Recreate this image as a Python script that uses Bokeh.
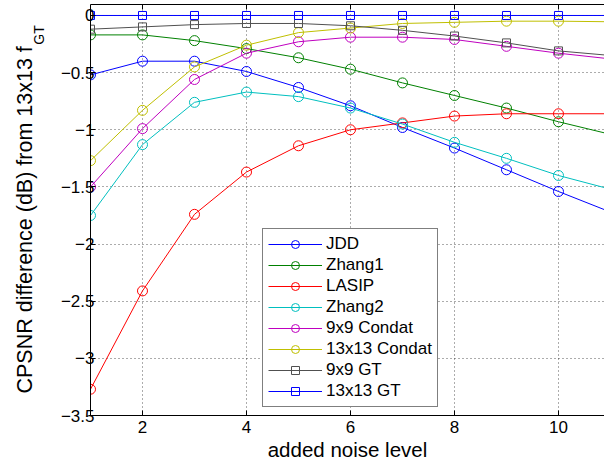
from bokeh.plotting import figure
from bokeh.models import Range1d, FixedTicker, LinearAxis, Title, Legend, LegendItem
from bokeh.embed import file_html
from bokeh.resources import INLINE

# ---------------- data ----------------
noise_level = [1, 2, 3, 4, 5, 6, 7, 8, 9, 10, 11]
jdd = [-0.52, -0.40, -0.40, -0.49, -0.63, -0.79, -0.98, -1.16, -1.35, -1.54, -1.72]
zhang1 = [-0.17, -0.17, -0.22, -0.29, -0.37, -0.47, -0.59, -0.70, -0.81, -0.93, -1.04]
lasip = [-3.27, -2.41, -1.74, -1.37, -1.14, -1.00, -0.94, -0.88, -0.86, -0.86, -0.86]
zhang2 = [-1.75, -1.13, -0.76, -0.67, -0.71, -0.81, -0.95, -1.11, -1.25, -1.40, -1.52]
condat9 = [-1.50, -0.99, -0.56, -0.33, -0.23, -0.19, -0.19, -0.21, -0.27, -0.33, -0.38]
condat13 = [-1.27, -0.83, -0.45, -0.26, -0.15, -0.11, -0.07, -0.06, -0.05, -0.05, -0.055]
gt9 = [-0.12, -0.10, -0.08, -0.07, -0.07, -0.09, -0.13, -0.18, -0.24, -0.31, -0.35]
gt13 = [0.0, 0.0, 0.0, 0.0, 0.0, 0.0, 0.0, 0.0, 0.0, 0.0, 0.0]

series_names = ["JDD", "Zhang1", "LASIP", "Zhang2", "9x9 Condat", "13x13 Condat", "9x9 GT", "13x13 GT"]
series_values = [jdd, zhang1, lasip, zhang2, condat9, condat13, gt9, gt13]
series_colors = ["#0000ff", "#008000", "#ff0000", "#00bfbf", "#bf00bf", "#bfbf00", "#505050", "#0000ff"]
series_markers = ["circle", "circle", "circle", "circle", "circle", "circle", "square", "square"]

x_ticks = [2, 4, 6, 8, 10]
y_ticks = [0, -0.5, -1, -1.5, -2, -2.5, -3, -3.5]
y_tick_labels = ["0", "\u22120.5", "\u22121", "\u22121.5", "\u22122", "\u22122.5", "\u22123", "\u22123.5"]

x_label = "added noise level"
y_label_main = "CPSNR difference (dB) from 13x13 f"
y_label_sub = "GT"

FONT = "Liberation Sans"

# ---------------- figure ----------------
p = figure(width=604, height=466, output_backend="svg", toolbar_location=None,
           x_range=Range1d(1, 10.885), y_range=Range1d(-3.5, 0.096),
           min_border_left=90, min_border_right=0, min_border_top=4, min_border_bottom=51)
p.outline_line_color = None
p.background_fill_color = "white"
p.border_fill_color = "white"

# axes
for ax in (p.xaxis[0], p.yaxis[0]):
    ax.major_tick_in = 5
    ax.major_tick_out = 0
    ax.minor_tick_in = 0
    ax.minor_tick_out = 0
    ax.axis_line_color = "black"
    ax.axis_line_width = 1
    ax.major_tick_line_color = "black"
    ax.major_label_text_font = FONT
    ax.major_label_text_font_size = "17px"
    ax.major_label_text_color = "black"
    ax.axis_label_text_font = FONT
    ax.axis_label_text_font_style = "normal"
    ax.axis_label_text_color = "black"

p.xaxis.ticker = FixedTicker(ticks=x_ticks)
p.xaxis.major_label_standoff = 5
p.xaxis.axis_label = x_label
p.xaxis.axis_label_text_font_size = "20.5px"
p.xaxis.axis_label_standoff = 2

p.yaxis.ticker = FixedTicker(ticks=y_ticks)
p.yaxis.major_label_standoff = -4
p.yaxis.major_label_overrides = {t: s for t, s in zip(y_ticks, y_tick_labels)}
# subscript of the y label: sits at the top end of the (centred) label
p.yaxis.axis_label = "\u00a0" * 90 + y_label_sub
p.yaxis.axis_label_text_font_size = "14px"
p.yaxis.axis_label_standoff = 11

top_axis = LinearAxis(ticker=FixedTicker(ticks=x_ticks), major_label_text_font_size="0px",
                      major_label_standoff=0, major_tick_in=5, major_tick_out=0,
                      minor_tick_in=0, minor_tick_out=0, axis_line_color="black")
p.add_layout(top_axis, "above")

# y label main text (outside the subscript)
p.add_layout(Title(text=y_label_main, align="left", offset=22, standoff=-18,
                   text_font=FONT, text_font_size="21.5px", text_font_style="normal",
                   text_color="black", vertical_align="bottom"), "left")

# grid
p.xgrid.ticker = FixedTicker(ticks=x_ticks)
p.ygrid.ticker = FixedTicker(ticks=y_ticks)
for g in (p.xgrid[0], p.ygrid[0]):
    g.grid_line_color = "black"
    g.grid_line_alpha = 0.65
    g.grid_line_dash = "1 3"
    g.grid_line_width = 1

# series
items = []
for name, vals, col, mk in zip(series_names, series_values, series_colors, series_markers):
    lr = p.line(noise_level, vals, line_color=col, line_width=1)
    size = 10 if mk == "circle" else 8
    sr = p.scatter(noise_level, vals, marker=mk, size=size, line_color=col, line_width=1,
                   fill_color=None)
    items.append(LegendItem(label=name, renderers=[lr, sr]))

# legend
lg = Legend(items=items, location=(172, 8))
lg.label_text_font = FONT
lg.label_text_font_size = "17px"
lg.label_text_color = "black"
lg.border_line_color = "black"
lg.border_line_width = 1
lg.background_fill_color = "white"
lg.background_fill_alpha = 1
lg.padding = 5
lg.spacing = 1
lg.margin = 0
lg.glyph_height = 20
lg.label_height = 20
lg.glyph_width = 54
lg.label_standoff = 4
lg.label_width = 106
p.add_layout(lg, "center")

open("out.html", "w").write(file_html(p, INLINE))
